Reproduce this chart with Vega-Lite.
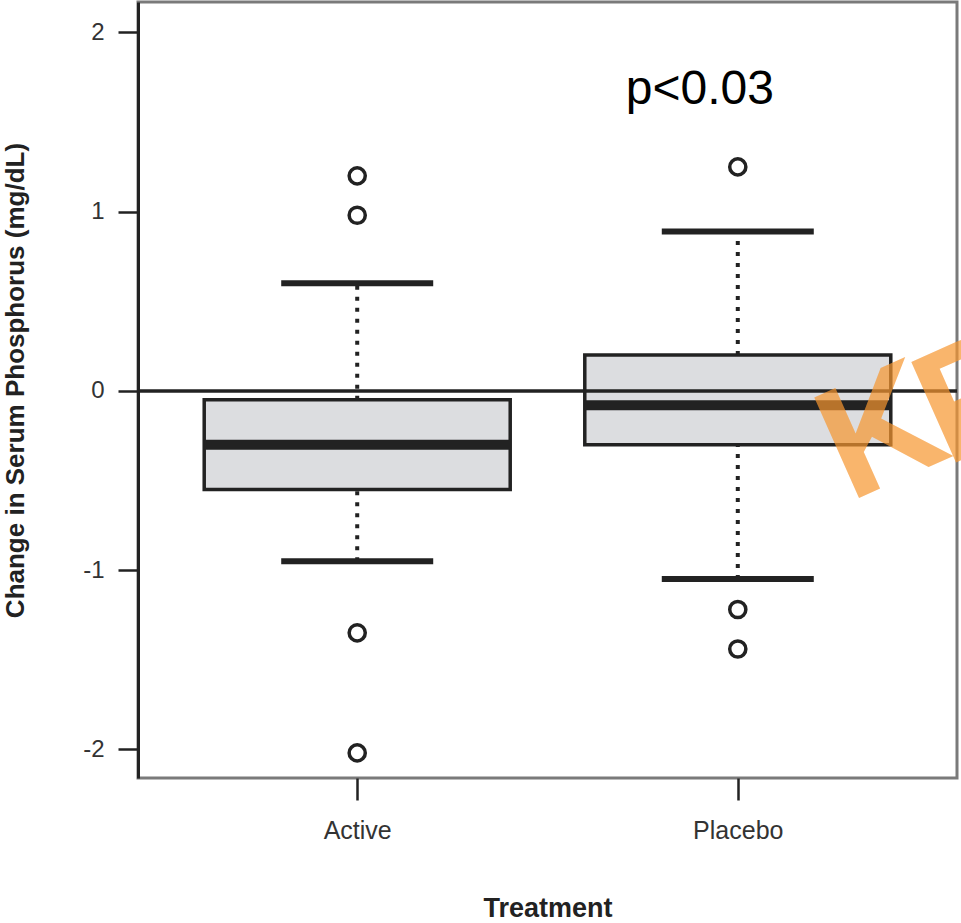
{
  "$schema": "https://vega.github.io/schema/vega-lite/v6.json",
  "width": 819,
  "height": 776,
  "autosize": {"type": "none"},
  "padding": {"left": 138, "top": 2, "right": 4, "bottom": 145},
  "background": "white",
  "config": {
    "view": {"stroke": "#7a7a7a", "strokeWidth": 3},
    "font": "Liberation Sans",
    "axis": {"grid": false},
    "axisY": {
      "titleFont": "Liberation Sans",
      "titleFontSize": 26,
      "titleFontWeight": "bold",
      "titleColor": "#222",
      "titlePadding": 54,
      "titleY": 378,
      "labelFont": "Liberation Sans",
      "labelFontSize": 24,
      "labelColor": "#333",
      "labelPadding": 14,
      "tickSize": 20,
      "tickWidth": 2.5,
      "tickColor": "#222",
      "domainColor": "#222",
      "domainWidth": 3
    }
  },
  "datasets": {
    "boxes": [
      {"group": "Active", "lower": -0.95, "q1": -0.55, "median": -0.3, "q3": -0.05, "upper": 0.6},
      {"group": "Placebo", "lower": -1.05, "q1": -0.3, "median": -0.08, "q3": 0.2, "upper": 0.89}
    ],
    "outliers": [
      {"group": "Active", "value": 1.2},
      {"group": "Active", "value": 0.98},
      {"group": "Active", "value": -1.35},
      {"group": "Active", "value": -2.02},
      {"group": "Placebo", "value": 1.25},
      {"group": "Placebo", "value": -1.22},
      {"group": "Placebo", "value": -1.44}
    ]
  },
  "encoding": {
    "x": {
      "field": "group",
      "type": "nominal",
      "sort": ["Active", "Placebo"],
      "scale": {"type": "point", "padding": 0.576, "domain": ["Active", "Placebo"]},
      "axis": {
        "title": "Treatment",
        "titleFont": "Liberation Sans",
        "titleFontSize": 27,
        "titleFontWeight": "bold",
        "titleColor": "#222",
        "titlePadding": 52,
        "labelFont": "Liberation Sans",
        "labelFontSize": 25,
        "labelColor": "#333",
        "labelPadding": 18,
        "labelAngle": 0,
        "tickSize": 22,
        "tickWidth": 2.5,
        "tickColor": "#222",
        "domain": false
      }
    }
  },
  "layer": [
    {
      "data": {"name": "boxes"},
      "mark": {"type": "bar", "width": 306, "fill": "#dcdde0", "stroke": "#222", "strokeWidth": 3.5},
      "encoding": {
        "y": {
          "field": "q1",
          "type": "quantitative",
          "title": "Change in Serum Phosphorus (mg/dL)",
          "scale": {"domain": [-2.16, 2.17], "nice": false, "zero": false},
          "axis": {"values": [-2, -1, 0, 1, 2], "labelExpr": "toString(datum.value)"}
        },
        "y2": {"field": "q3"}
      }
    },
    {
      "data": {"name": "boxes"},
      "mark": {"type": "rule", "stroke": "#222", "strokeWidth": 4, "strokeDash": [4, 7]},
      "encoding": {
        "y": {"field": "q3", "type": "quantitative", "title": "Change in Serum Phosphorus (mg/dL)"},
        "y2": {"field": "upper"}
      }
    },
    {
      "data": {"name": "boxes"},
      "mark": {"type": "rule", "stroke": "#222", "strokeWidth": 4, "strokeDash": [4, 7]},
      "encoding": {
        "y": {"field": "lower", "type": "quantitative", "title": "Change in Serum Phosphorus (mg/dL)"},
        "y2": {"field": "q1"}
      }
    },
    {
      "data": {"name": "boxes"},
      "mark": {"type": "tick", "orient": "horizontal", "size": 152, "thickness": 6, "color": "#222", "opacity": 1},
      "encoding": {
        "y": {"field": "upper", "type": "quantitative", "title": "Change in Serum Phosphorus (mg/dL)"}
      }
    },
    {
      "data": {"name": "boxes"},
      "mark": {"type": "tick", "orient": "horizontal", "size": 152, "thickness": 6, "color": "#222", "opacity": 1},
      "encoding": {
        "y": {"field": "lower", "type": "quantitative", "title": "Change in Serum Phosphorus (mg/dL)"}
      }
    },
    {
      "data": {"name": "boxes"},
      "mark": {"type": "tick", "orient": "horizontal", "size": 306, "thickness": 10, "color": "#222", "opacity": 1},
      "encoding": {
        "y": {"field": "median", "type": "quantitative", "title": "Change in Serum Phosphorus (mg/dL)"}
      }
    },
    {
      "data": {"name": "outliers"},
      "mark": {"type": "point", "shape": "circle", "size": 260, "filled": false, "stroke": "#222", "strokeWidth": 3.5, "opacity": 1},
      "encoding": {
        "y": {"field": "value", "type": "quantitative", "title": "Change in Serum Phosphorus (mg/dL)"}
      }
    },
    {
      "data": {"values": [{"zero": 0}]},
      "mark": {"type": "rule", "stroke": "#222", "strokeWidth": 3.5},
      "encoding": {
        "x": null,
        "y": {"field": "zero", "type": "quantitative", "title": "Change in Serum Phosphorus (mg/dL)"}
      }
    },
    {
      "data": {"values": [{"group": "Placebo", "pos": 1.68, "label": "p<0.03"}]},
      "mark": {"type": "text", "font": "Liberation Sans", "fontSize": 48, "color": "#000", "dx": -38, "align": "center", "baseline": "middle"},
      "encoding": {
        "y": {"field": "pos", "type": "quantitative", "title": "Change in Serum Phosphorus (mg/dL)"},
        "text": {"field": "label"}
      }
    },
    {
      "data": {"values": [{"group": "Placebo", "pos": -0.245, "label": "K"}]},
      "mark": {"type": "text", "font": "Liberation Sans", "fontSize": 160, "fontWeight": "bold", "color": "#f7962f", "opacity": 0.7, "angle": -24, "dx": 132, "dy": 59, "align": "center", "baseline": "middle"},
      "encoding": {
        "y": {"field": "pos", "type": "quantitative", "title": "Change in Serum Phosphorus (mg/dL)"},
        "text": {"field": "label"}
      }
    },
    {
      "data": {"values": [{"group": "Placebo", "pos": -0.056, "label": "P"}]},
      "mark": {"type": "text", "font": "Liberation Sans", "fontSize": 160, "fontWeight": "bold", "color": "#f7962f", "opacity": 0.7, "angle": -24, "dx": 217, "dy": 97, "align": "center", "baseline": "middle"},
      "encoding": {
        "y": {"field": "pos", "type": "quantitative", "title": "Change in Serum Phosphorus (mg/dL)"},
        "text": {"field": "label"}
      }
    }
  ]
}
